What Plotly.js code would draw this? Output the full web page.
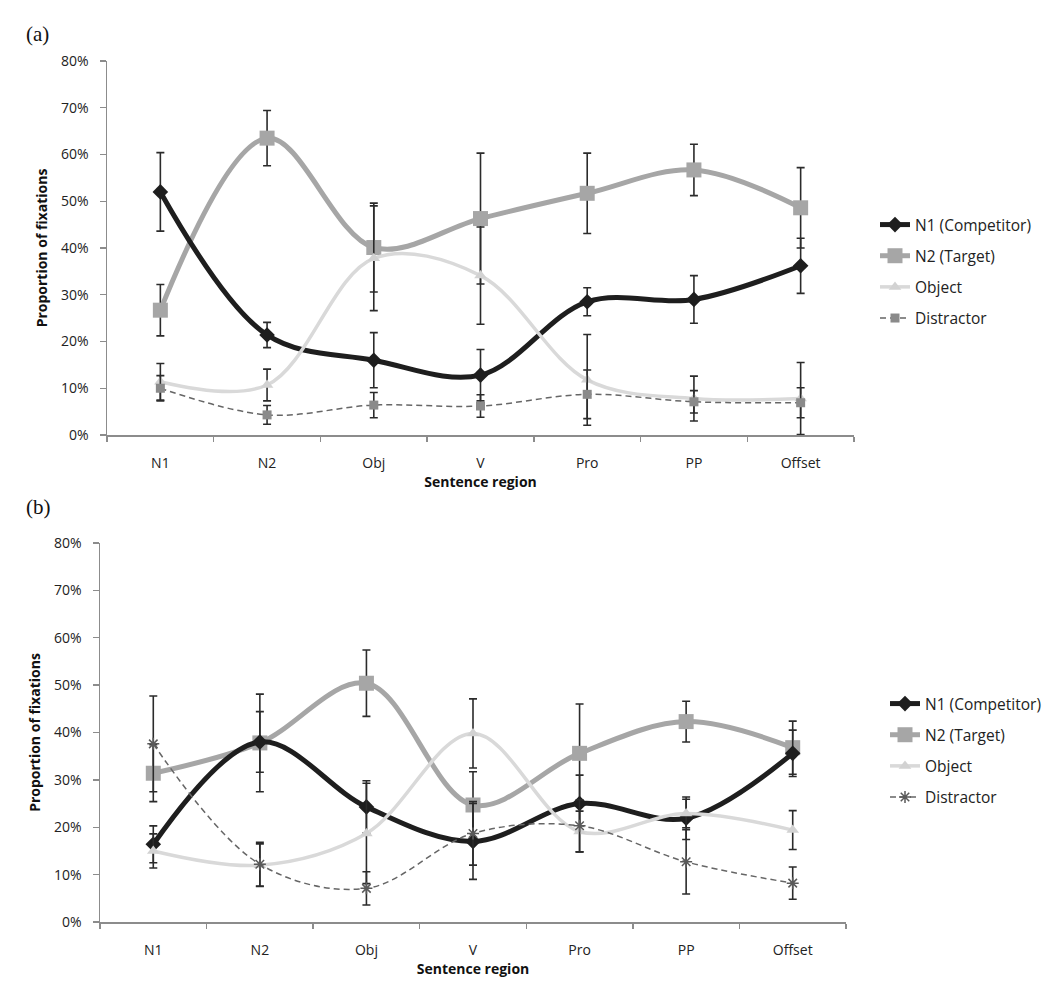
<!DOCTYPE html>
<html><head><meta charset="utf-8">
<script src="https://cdn.plot.ly/plotly-3.0.1.min.js"></script>
<style>html,body{margin:0;padding:0;background:#fff}#chart{width:1050px;height:987px}</style>
</head><body><div id="chart"></div>
<script>
// ---- categories / labels ----
const regions = ['N1', 'N2', 'Obj', 'V', 'Pro', 'PP', 'Offset'];
const seriesNames = ['N1 (Competitor)', 'N2 (Target)', 'Object', 'Distractor'];
const yTickVals = [0, 10, 20, 30, 40, 50, 60, 70, 80];
const yTickLabels = ['0%', '10%', '20%', '30%', '40%', '50%', '60%', '70%', '80%'];
const xTitle = 'Sentence region';
const yTitle = 'Proportion of fixations';

// ---- panel (a) values, % ----
const compA      = [52.0, 21.4, 16.0, 12.8, 28.5, 29.0, 36.2];
const compAErr   = [8.4, 2.7, 5.9, 5.5, 3.0, 5.1, 5.9];
const targetA    = [26.7, 63.5, 40.1, 46.3, 51.7, 56.7, 48.6];
const targetAErr = [5.5, 5.9, 9.5, 14.0, 8.6, 5.5, 8.6];
const objectA    = [11.4, 10.7, 37.8, 34.1, 11.8, 7.8, 7.8];
const objectAErr = [3.9, 3.4, 11.2, 10.4, 9.7, 4.8, 7.7];
const distA      = [10.0, 4.3, 6.4, 6.2, 8.7, 7.1, 6.9];
const distAErr   = [2.7, 2.0, 2.7, 2.4, 5.2, 2.4, 3.2];

// ---- panel (b) values, % ----
const compB      = [16.4, 38.0, 24.3, 17.0, 25.0, 21.9, 35.6];
const compBErr   = [3.9, 6.4, 5.5, 8.0, 6.0, 4.5, 4.9];
const targetB    = [31.4, 37.8, 50.4, 24.7, 35.6, 42.3, 36.8];
const targetBErr = [6.0, 10.3, 7.0, 7.0, 10.4, 4.3, 5.6];
const objectB    = [15.0, 12.0, 18.7, 39.8, 19.1, 22.9, 19.4];
const objectBErr = [3.6, 4.5, 10.6, 7.3, 4.3, 3.0, 4.1];
const distB      = [37.6, 12.2, 7.1, 18.7, 20.3, 12.7, 8.2];
const distBErr   = [10.1, 4.6, 3.5, 6.7, 5.5, 6.8, 3.4];

const FONT = 'Open Sans, Lato, sans-serif';
const ERRC = '#2b2b2b';

function err(arr) {
  return {type: 'data', array: arr, visible: true, color: ERRC, thickness: 1.6, width: 4};
}

function makeTraces(panel, xa, ya, leg, comp, compE, targ, targE, obj, objE, dist, distE, distSymbol) {
  return [
    {type: 'scatter', mode: 'lines+markers', name: seriesNames[1], x: regions, y: targ,
     xaxis: xa, yaxis: ya, legend: leg, legendgroup: panel + '2', legendrank: 2,
     line: {color: '#a6a6a6', width: 5, shape: 'spline', smoothing: 1},
     marker: {symbol: 'square', size: 15, color: '#a6a6a6'}, error_y: err(targE)},
    {type: 'scatter', mode: 'lines+markers', name: seriesNames[0], x: regions, y: comp,
     xaxis: xa, yaxis: ya, legend: leg, legendgroup: panel + '1', legendrank: 1,
     line: {color: '#1e1e1e', width: 5, shape: 'spline', smoothing: 1},
     marker: {symbol: 'diamond', size: 12, color: '#1e1e1e'}, error_y: err(compE)},
    {type: 'scatter', mode: 'lines+markers', name: seriesNames[2], x: regions, y: obj,
     xaxis: xa, yaxis: ya, legend: leg, legendgroup: panel + '3', legendrank: 3,
     line: {color: '#d9d9d9', width: 3.5, shape: 'spline', smoothing: 1},
     marker: {symbol: 'triangle-up', size: 11, color: '#d2d2d2'}, error_y: err(objE)},
    {type: 'scatter', mode: 'lines+markers', name: seriesNames[3], x: regions, y: dist,
     xaxis: xa, yaxis: ya, legend: leg, legendgroup: panel + '4', legendrank: 4,
     line: {color: '#666666', width: 1.5, dash: '6px,4px', shape: 'spline', smoothing: 1},
     marker: distSymbol === 'square'
       ? {symbol: 'square', size: 9, color: '#8a8a8a'}
       : {symbol: 'asterisk-open', size: 10, color: '#5a5a5a', line: {color: '#5a5a5a', width: 1.5}},
     error_y: err(distE)}
  ];
}

const data = [].concat(
  makeTraces('a', 'x', 'y', 'legend', compA, compAErr, targetA, targetAErr, objectA, objectAErr, distA, distAErr, 'square'),
  makeTraces('b', 'x2', 'y2', 'legend2', compB, compBErr, targetB, targetBErr, objectB, objectBErr, distB, distBErr, 'asterisk')
);

const W = 1050, H = 987;
function xAxis(l, r, anchor) {
  return {
    domain: [l / W, r / W], anchor: anchor, type: 'category', range: [-0.5, regions.length - 0.5],
    tickson: 'boundaries', ticks: 'outside', ticklen: 5, tickcolor: '#8c8c8c', tickwidth: 1.3,
    showline: true, linecolor: '#8c8c8c', linewidth: 1.5, showgrid: false, zeroline: false,
    tickfont: {family: FONT, size: 14, color: '#222'}, ticklabelstandoff: 15,
    title: {text: xTitle, font: {family: FONT, size: 14, color: '#111', weight: 'bold'}, standoff: 5}
  };
}
function yAxis(top, bottom, anchor) {
  return {
    domain: [1 - bottom / H, 1 - top / H], anchor: anchor, range: [0, 80],
    tickmode: 'array', tickvals: yTickVals, ticktext: yTickLabels,
    ticks: 'outside', ticklen: 6, tickcolor: '#8c8c8c', tickwidth: 1.3,
    showline: true, linecolor: '#8c8c8c', linewidth: 1.5, showgrid: false, zeroline: false,
    tickfont: {family: FONT, size: 14, color: '#222'}, ticklabelstandoff: 8,
    title: {text: yTitle, font: {family: FONT, size: 14, color: '#111', weight: 'bold'}, standoff: 10}
  };
}
function legendAt(xpx, ypx) {
  return {x: xpx / W, y: 1 - ypx / H, xanchor: 'left', yanchor: 'top', xref: 'paper', yref: 'paper',
    bgcolor: 'rgba(0,0,0,0)', font: {family: FONT, size: 15.5, color: '#222'},
    traceorder: 'grouped', tracegroupgap: 8, itemclick: false};
}

const layout = {
  width: W, height: H, autosize: false,
  margin: {l: 0, r: 0, t: 0, b: 0},
  paper_bgcolor: '#fff', plot_bgcolor: '#fff',
  showlegend: true,
  xaxis: xAxis(107, 854, 'y'),
  yaxis: yAxis(61, 435, 'x'),
  xaxis2: xAxis(100, 846, 'y2'),
  yaxis2: yAxis(543, 922, 'x2'),
  legend: legendAt(875, 208),
  legend2: legendAt(885, 687),
  annotations: [
    {text: '(a)', xref: 'paper', yref: 'paper', x: 24 / W, y: 1 - 20 / H, showarrow: false,
     font: {family: 'Liberation Serif, serif', size: 21, color: '#111'}},
    {text: '(b)', xref: 'paper', yref: 'paper', x: 24 / W, y: 1 - 507 / H, showarrow: false,
     font: {family: 'Liberation Serif, serif', size: 21, color: '#111'}}
  ]
};

Plotly.newPlot('chart', data, layout, {staticPlot: true, displayModeBar: false});
</script>
</body></html>
